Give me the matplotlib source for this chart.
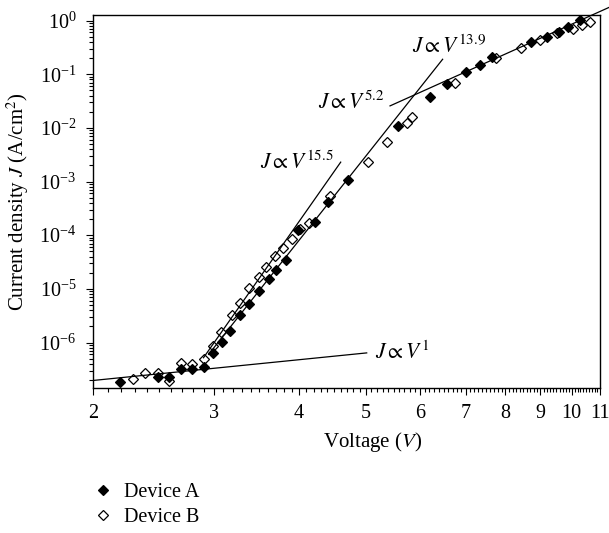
import numpy as np
import matplotlib.pyplot as plt
from matplotlib.ticker import FixedLocator, FixedFormatter, LogLocator, NullFormatter

plt.rcParams['font.family'] = ['Liberation Serif', 'DejaVu Serif']
plt.rcParams['mathtext.fontset'] = 'stix'

# Device A (filled diamonds)
dev_a_v = [2.19, 2.49, 2.58, 2.69, 2.79, 2.90, 2.99, 3.09, 3.17, 3.28, 3.38, 3.50,
           3.61, 3.70, 3.83, 3.99, 4.22, 4.41, 4.71, 5.58, 6.21, 6.57, 7.01, 7.36,
           7.66, 8.73, 9.20, 9.59, 9.87, 10.28]
dev_a_j = [1.82e-7, 2.30e-7, 2.30e-7, 3.15e-7, 3.15e-7, 3.53e-7, 6.24e-7, 1.01e-6,
           1.66e-6, 3.32e-6, 5.2e-6, 9.0e-6, 1.53e-5, 2.21e-5, 3.50e-5, 1.26e-4,
           1.73e-4, 4.07e-4, 1.05e-3, 1.10e-2, 3.73e-2, 6.5e-2, 0.111, 0.149,
           0.212, 0.403, 0.50, 0.603, 0.747, 1.02]

# Device B (open diamonds)
dev_b_v = [2.29, 2.38, 2.49, 2.58, 2.69, 2.79, 2.90, 2.99, 3.08, 3.19, 3.28, 3.38,
           3.49, 3.58, 3.69, 3.79, 3.90, 4.01, 4.13, 4.44, 5.04, 5.38, 5.74, 5.84,
           6.76, 7.76, 8.44, 8.98, 9.53, 10.04, 10.34, 10.65]
dev_b_j = [2.05e-7, 2.65e-7, 2.65e-7, 1.91e-7, 4.07e-7, 3.90e-7, 4.83e-7, 8.53e-7,
           1.56e-6, 3.32e-6, 5.55e-6, 1.04e-5, 1.67e-5, 2.56e-5, 4.03e-5, 5.78e-5,
           8.5e-5, 1.30e-4, 1.69e-4, 5.27e-4, 2.30e-3, 5.56e-3, 1.22e-2, 1.62e-2,
           6.97e-2, 0.198, 0.312, 0.434, 0.578, 0.686, 0.825, 0.95]

# power-law guide lines (end points)
fit_1_v = [2.0, 5.02]
fit_1_j = [1.96e-7, 6.4e-7]
fit_155_v = [2.90, 4.60]
fit_155_j = [5.2e-7, 2.3e-3]
fit_139_v = [2.95, 6.48]
fit_139_j = [6.0e-7, 0.19]
fit_52_v = [5.43, 11.34]
fit_52_j = [0.0257, 1.76]

x_ticks = [2, 3, 4, 5, 6, 7, 8, 9, 10, 11]
x_ticklabels = ['2', '3', '4', '5', '6', '7', '8', '9', '10', '11']

fs = 14.5      # ticks, legend
fs_lab = 15    # axis titles
fs_ann = 15.5  # power-law labels

fig = plt.figure(figsize=(6.09, 5.33), dpi=100)
ax = fig.add_axes([93/609, 1 - 387.5/533, 507/609, 372.5/533])
ax.set_xscale('log')
ax.set_yscale('log')

hb, = ax.plot(dev_b_v, dev_b_j, 'D', ms=5.5, mfc='white', mec='black', mew=0.9, ls='none')
ha, = ax.plot(dev_a_v, dev_a_j, 'D', ms=5.5, mfc='black', mec='black', mew=0.9, ls='none')

ax.plot(fit_1_v, fit_1_j, color='black', lw=0.9)
ax.plot(fit_155_v, fit_155_j, color='black', lw=0.9)
ax.plot(fit_139_v, fit_139_j, color='black', lw=0.9)
ax.plot(fit_52_v, fit_52_j, color='black', lw=0.9, clip_on=False)

ax.text(5.84, 0.33, r'$J \propto V^{13.9}$', fontsize=fs_ann, va='center', ha='left')
ax.text(5.33, 0.029, r'$J \propto V^{5.2}$', fontsize=fs_ann, va='center', ha='right')
ax.text(3.51, 2.23e-3, r'$J \propto V^{15.5}$', fontsize=fs_ann, va='center', ha='left')
ax.text(5.16, 6.5e-7, r'$J \propto V^{1}$', fontsize=fs_ann, va='center', ha='left')

ax.set_xlim(2, 11)
ax.set_ylim(1.45e-7, 1.27)

ax.xaxis.set_major_locator(FixedLocator(x_ticks))
ax.xaxis.set_major_formatter(FixedFormatter(x_ticklabels))
ax.xaxis.set_minor_locator(FixedLocator(np.arange(2, 11.001, 0.1)))
ax.xaxis.set_minor_formatter(NullFormatter())
ax.yaxis.set_major_locator(LogLocator(base=10, numticks=20))
ax.yaxis.set_minor_locator(LogLocator(base=10, subs=np.arange(2, 10), numticks=20))
ax.yaxis.set_minor_formatter(NullFormatter())

ax.tick_params(which='major', length=5, width=0.8, labelsize=fs, pad=7, direction='out')
ax.tick_params(which='minor', length=3, width=0.8, direction='out')
for s in ax.spines.values():
    s.set_linewidth(1.0)

ax.set_xlabel(r'Voltage ($V$)', fontsize=fs_lab, labelpad=5)
ax.xaxis.label.set_x((373 - 93) / 507)
ax.set_ylabel(r'Current density $J$ (A/cm$^2$)', fontsize=fs_lab, labelpad=6)

fig.legend(handles=[ha, hb], labels=['Device A', 'Device B'], loc='upper left',
           bbox_to_anchor=(92.7/609, 1 - 483/533), frameon=False, borderpad=0,
           borderaxespad=0, handlelength=1.0, handletextpad=0.55, labelspacing=0.3,
           fontsize=fs)

fig.savefig('out.png', dpi=100)
